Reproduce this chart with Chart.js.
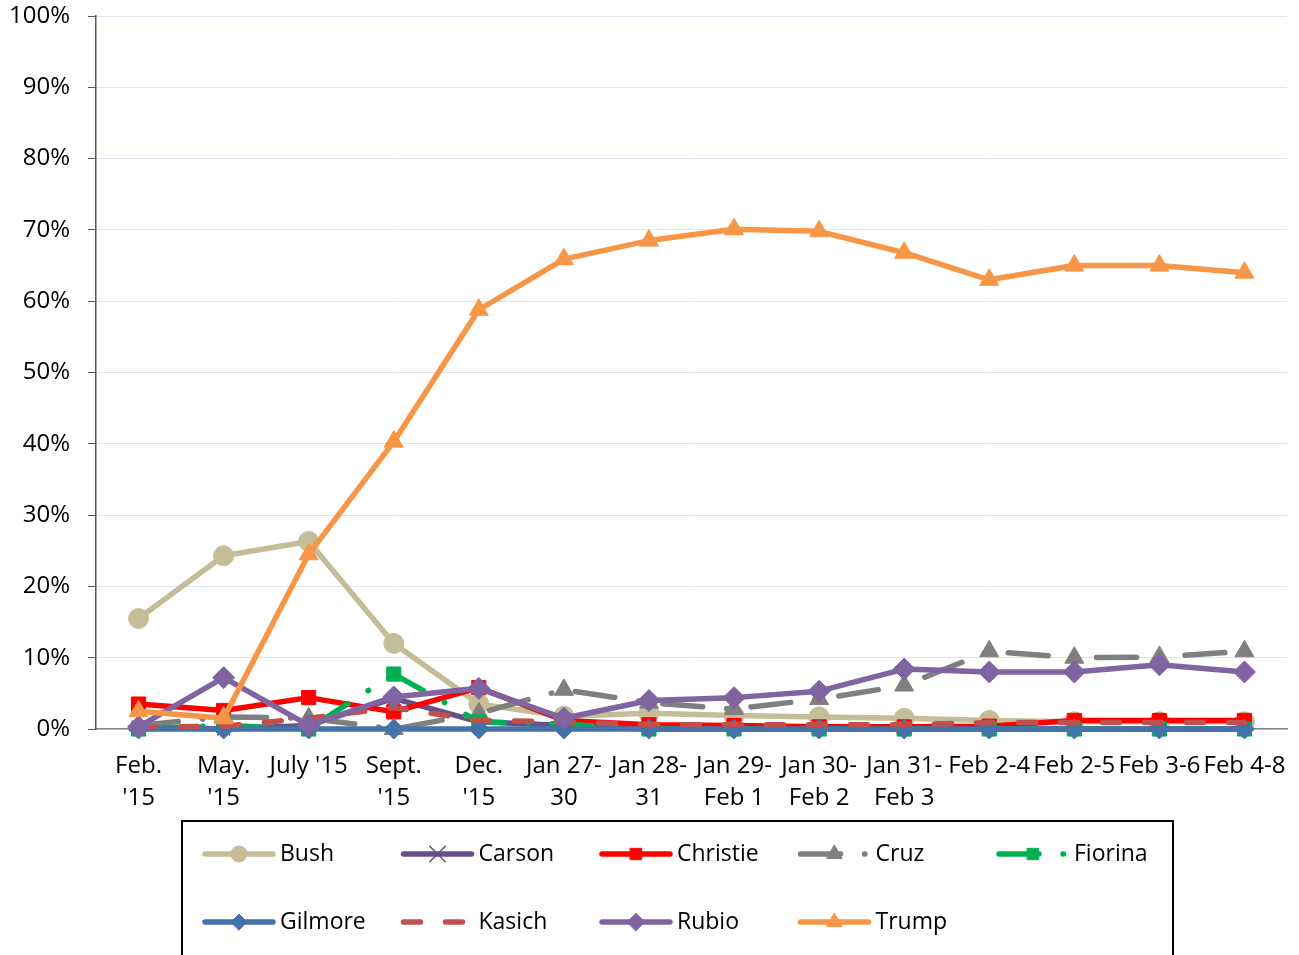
<!DOCTYPE html>
<html>
<head>
<meta charset="utf-8">
<script src="https://cdn.jsdelivr.net/npm/chart.js@4.4.1/dist/chart.umd.min.js"></script>
<style>
  html, body { margin: 0; padding: 0; background: #fff; }
  #wrap { width: 1299px; height: 955px; }
</style>
</head>
<body>
<div id="wrap"><canvas id="pollChart" width="1299" height="955"></canvas></div>
<script>
const pollDates = [
  ["Feb.", "'15"], ["May.", "'15"], "July '15", ["Sept.", "'15"], ["Dec.", "'15"],
  ["Jan 27-", "30"], ["Jan 28-", "31"], ["Jan 29-", "Feb 1"], ["Jan 30-", "Feb 2"],
  ["Jan 31-", "Feb 3"], "Feb 2-4", "Feb 2-5", "Feb 3-6", "Feb 4-8"
];

// support, in percent
const bush     = [15.5, 24.3, 26.3, 12.0, 3.5, 1.8, 2.2, 1.9, 1.7, 1.5, 1.2, 1.0, 1.0, 1.0];
const carson   = [0.3, 0.0, 0.5, 4.3, 1.0, 0.5, 0, 0, 0, 0, 0, 0, 0, 0];
const christie = [3.5, 2.6, 4.4, 2.4, 5.8, 1.2, 0.6, 0.5, 0.3, 0.3, 0.4, 1.2, 1.2, 1.2];
const cruz     = [0.5, 1.7, 1.5, 0.0, 2.2, 5.5, 3.7, 2.8, 4.2, 6.1, 10.9, 10.0, 10.1, 10.9];
const fiorina  = [0.0, 0.5, 0.0, 7.7, 1.0, 0.7, 0, 0, 0, 0, 0, 0, 0, 0];
const gilmore  = [0, 0, 0, 0, 0, 0, 0, 0, 0, 0, 0, 0, 0, 0];
const kasich   = [0.2, 0.4, 1.5, 3.0, 1.2, 1.0, 0.6, 0.6, 0.6, 0.6, 0.9, 0.9, 0.9, 0.9];
const rubio    = [0.3, 7.2, 0.5, 4.5, 5.7, 1.5, 4.0, 4.4, 5.3, 8.4, 8.0, 8.0, 9.0, 8.0];
const trump    = [2.5, 1.5, 24.5, 40.3, 58.8, 65.9, 68.5, 70.1, 69.8, 66.8, 63.0, 65.0, 65.0, 64.0];

const yTicks = [0, 10, 20, 30, 40, 50, 60, 70, 80, 90, 100];

const labelFont = "'Open Sans', sans-serif";
const dashDot = [40, 24, 0.5, 24];

function series(label, data, color, pointStyle, radius, extra) {
  return Object.assign({
    label: label,
    data: data,
    borderColor: color,
    backgroundColor: color,
    borderWidth: 5.5,
    borderCapStyle: "round",
    borderJoinStyle: "round",
    tension: 0,
    pointStyle: pointStyle,
    pointRadius: radius,
    pointHoverRadius: radius,
    pointBackgroundColor: color,
    pointBorderColor: color,
    pointBorderWidth: 1,
    clip: false
  }, extra || {});
}

const datasets = [
  series("Bush", bush, "#C4BD97", "circle", 10),
  series("Carson", carson, "#65508A", "crossRot", 9, { pointBorderWidth: 1.5 }),
  series("Christie", christie, "#FF0000", "rect", 10),
  series("Cruz", cruz, "#7F7F7F", "triangle", 11, { borderDash: dashDot }),
  series("Fiorina", fiorina, "#00B050", "rect", 10, { borderDash: dashDot }),
  series("Gilmore", gilmore, "#4672AA", "rectRot", 10),
  series("Kasich", kasich, "#C0504D", false, 0, { borderDash: [17, 25] }),
  series("Rubio", rubio, "#8064A2", "rectRot", 11),
  series("Trump", trump, "#F79646", "triangle", 11)
];
// later series are painted over earlier ones
datasets.forEach((ds, i) => { ds.order = datasets.length - i; });

// boxed legend under the axis, line sample + marker for each series
const boxLegend = {
  id: "boxLegend",
  afterDraw(chart) {
    const ctx = chart.ctx;
    ctx.save();
    ctx.strokeStyle = "#000";
    ctx.lineWidth = 2;
    ctx.strokeRect(182, 821, 991, 200);

    chart.data.datasets.forEach((ds, i) => {
      const x0 = 203 + (i % 5) * 198.5;
      const y = 854 + Math.floor(i / 5) * 68;

      ctx.strokeStyle = ds.borderColor;
      ctx.lineWidth = 5.5;
      ctx.lineCap = "round";
      ctx.setLineDash(ds.borderDash || []);
      ctx.beginPath();
      ctx.moveTo(x0 + 2, y);
      ctx.lineTo(x0 + 70, y);
      ctx.stroke();
      ctx.setLineDash([]);

      if (ds.pointStyle) {
        ctx.fillStyle = ds.pointBackgroundColor;
        ctx.strokeStyle = ds.pointBorderColor;
        ctx.lineWidth = ds.pointBorderWidth;
        Chart.helpers.drawPoint(ctx, {
          pointStyle: ds.pointStyle,
          radius: ds.pointStyle === "crossRot" ? 11 : ds.pointRadius * 0.8,
          rotation: 0,
          borderWidth: ds.pointBorderWidth
        }, x0 + 36, y);
      }

      ctx.fillStyle = "#000";
      ctx.font = "23px " + labelFont;
      ctx.textBaseline = "middle";
      ctx.textAlign = "left";
      ctx.fillText(ds.label, x0 + 77, y);
    });
    ctx.restore();
  }
};

// the layout padding alone decides where the plot area sits
function noScalePadding(scale) {
  scale.paddingTop = 0;
  scale.paddingBottom = 0;
  scale.paddingLeft = 0;
  scale.paddingRight = 0;
}

new Chart(document.getElementById("pollChart"), {
  type: "line",
  data: { labels: pollDates, datasets: datasets },
  plugins: [boxLegend],
  options: {
    responsive: false,
    animation: false,
    devicePixelRatio: 1,
    layout: { padding: { top: 16, right: 12, left: 0, bottom: 0 } },
    plugins: {
      legend: { display: false },
      tooltip: { enabled: false }
    },
    scales: {
      x: {
        offset: true,
        grid: { display: false, drawTicks: false },
        border: { display: true, color: "#868686", width: 1.5 },
        ticks: {
          color: "#000",
          padding: 21,
          maxRotation: 0,
          autoSkip: false,
          font: { family: labelFont, size: 24, lineHeight: 1.33 }
        },
        afterFit(scale) {
          scale.height = 226;
          noScalePadding(scale);
        }
      },
      y: {
        min: 0,
        max: 100,
        afterBuildTicks(scale) { scale.ticks = yTicks.map(v => ({ value: v })); },
        grid: {
          color: "#DCE6F2",
          lineWidth: 1,
          tickColor: "#595959",
          tickLength: 8,
          drawTicks: true
        },
        border: { display: true, color: "#595959", width: 1.5 },
        ticks: {
          color: "#000",
          padding: 18,
          font: { family: labelFont, size: 24 },
          callback: v => v + "%"
        },
        afterFit(scale) {
          scale.width = 96;
          noScalePadding(scale);
        }
      }
    }
  }
});
</script>
</body>
</html>
